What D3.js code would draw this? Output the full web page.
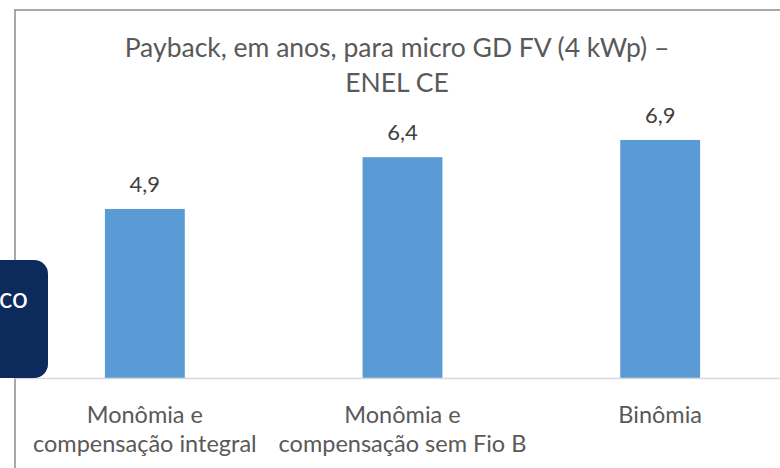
<!DOCTYPE html>
<html>
<head>
<meta charset="utf-8">
<script src="https://cdn.jsdelivr.net/npm/d3@7"></script>
<style>
  body { margin: 0; background: #fff; }
  svg { display: block; font-family: Lato, "Open Sans", sans-serif; }
</style>
</head>
<body>
<svg></svg>
<script>
// payback (anos) por modalidade tarifaria
const categories = ['Monômia e|compensação integral', 'Monômia e|compensação sem Fio B', 'Binômia'];
const payback = [4.9, 6.4, 6.9];
const titleLines = ['Payback, em anos, para micro GD FV (4 kWp) –', 'ENEL CE'];

const width = 780, height = 468;
const svg = d3.select('svg').attr('width', width).attr('height', height);

// chart frame (cut off at right and bottom)
svg.append('path')
  .attr('d', 'M15,' + (height + 2) + 'V10H' + (width + 2))
  .attr('fill', 'none')
  .attr('stroke', '#8c8c8c')
  .attr('stroke-width', 1.5);

const x = d3.scaleBand().domain(categories).range([16, 789])
  .paddingInner(0.69).paddingOuter(0.345);
const y = d3.scaleLinear().domain([0, 8]).range([378, 102]);

// title
svg.append('g')
  .selectAll('text')
  .data(titleLines)
  .join('text')
  .attr('x', 397)
  .attr('y', (d, i) => 57 + i * 35)
  .attr('text-anchor', 'middle')
  .attr('fill', '#595959')
  .attr('font-size', 26.5)
  .text((d) => d);

// bars
svg.append('g')
  .selectAll('rect')
  .data(payback)
  .join('rect')
  .attr('x', (d, i) => x(categories[i]))
  .attr('y', (d) => y(d))
  .attr('width', x.bandwidth())
  .attr('height', (d) => y(0) - y(d))
  .attr('fill', '#5b9bd5');

// value labels
svg.append('g')
  .selectAll('text')
  .data(payback)
  .join('text')
  .attr('x', (d, i) => x(categories[i]) + x.bandwidth() / 2)
  .attr('y', (d) => y(d) - 17)
  .attr('text-anchor', 'middle')
  .attr('fill', '#404040')
  .attr('font-size', 22)
  .text((d) => d3.format('.1f')(d).replace('.', ','));

// baseline
svg.append('line')
  .attr('x1', 15)
  .attr('x2', width)
  .attr('y1', y(0) + 0.5)
  .attr('y2', y(0) + 0.5)
  .attr('stroke', '#d9d9d9')
  .attr('stroke-width', 1.5);

// category labels
const cats = svg.append('g')
  .selectAll('text')
  .data(categories)
  .join('text')
  .attr('text-anchor', 'middle')
  .attr('fill', '#595959')
  .attr('font-size', 23.5);

cats.selectAll('tspan')
  .data((d) => d.split('|').map((t) => ({ t: t, c: d })))
  .join('tspan')
  .attr('x', (d) => x(d.c) + x.bandwidth() / 2)
  .attr('y', (d, i) => 423 + i * 29)
  .text((d) => d.t);

// navy box peeking in from the left
svg.append('rect')
  .attr('x', -20)
  .attr('y', 260)
  .attr('width', 68)
  .attr('height', 118)
  .attr('rx', 14)
  .attr('fill', '#0c2a5c');

svg.append('text')
  .attr('x', -1)
  .attr('y', 308)
  .attr('fill', '#fff')
  .attr('font-size', 28)
  .text('co');
</script>
</body>
</html>
